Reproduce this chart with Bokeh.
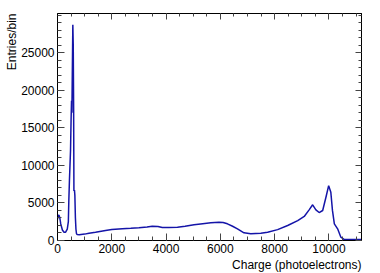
from bokeh.plotting import figure
from bokeh.models import Range1d, FixedTicker, LinearAxis, Title
from bokeh.embed import file_html
from bokeh.resources import INLINE

charge = [0, 20, 50, 80, 120, 180, 240, 300, 360, 400, 417, 440, 480, 500, 517, 530, 545, 565,
          580, 595, 605, 625, 640, 660, 680, 700, 725, 800, 1000, 1160, 1400, 1770, 2000, 2390,
          2700, 3000, 3300, 3490, 3700, 3860, 4100, 4420, 4700, 5030, 5350, 5650, 5950, 6100,
          6260, 6450, 6630, 6870, 7120, 7490, 7740, 8110, 8480, 8850, 9090, 9270, 9400, 9520,
          9640, 9770, 9890, 9990, 10070, 10130, 10200, 10320, 10440, 10570, 10800, 11200]
entries = [2800, 3200, 3400, 3100, 2200, 1400, 1100, 1100, 1500, 2500, 5300, 8000, 12000, 16000,
           18600, 17000, 22000, 28700, 26000, 17000, 6600, 6700, 6000, 3000, 1500, 900, 800, 780,
           850, 970, 1100, 1330, 1450, 1550, 1620, 1690, 1800, 1900, 1850, 1720, 1720, 1770, 1900,
           2090, 2230, 2350, 2440, 2400, 2220, 1900, 1550, 1020, 900, 970, 1100, 1450, 2000, 2650,
           3200, 4080, 4750, 4080, 3720, 3990, 5760, 7300, 6420, 4000, 2220, 1550, 440, 130, 130, 120]

x_major = [0, 2000, 4000, 6000, 8000, 10000]
x_minor = [v * 500 for v in range(0, 23)]
y_major = [0, 5000, 10000, 15000, 20000, 25000]
y_minor = [v * 1000 for v in range(0, 31)]

FONT = "Liberation Sans"

p = figure(width=380, height=273, output_backend="svg", toolbar_location=None,
           x_range=Range1d(0, 11200), y_range=Range1d(0, 30200),
           min_border_left=57, min_border_right=19, min_border_top=13, min_border_bottom=33,
           x_axis_location=None, y_axis_location=None)
p.xgrid.visible = False
p.ygrid.visible = False
p.outline_line_color = "black"
p.outline_line_width = 1
p.background_fill_color = "white"
p.border_fill_color = "white"

def style(ax, labels=True, major_len=7, minor_len=4):
    ax.axis_line_color = "black"
    ax.major_tick_in = major_len
    ax.major_tick_out = 0
    ax.minor_tick_in = minor_len
    ax.minor_tick_out = 0
    ax.major_tick_line_color = "#444444"
    ax.minor_tick_line_color = "#444444"
    ax.major_label_text_font = FONT
    ax.major_label_text_font_size = "12px"
    ax.major_label_text_color = "black"
    if not labels:
        ax.major_label_text_font_size = "0px"
        ax.major_label_text_alpha = 0

xb = LinearAxis(ticker=FixedTicker(ticks=x_major, minor_ticks=x_minor))
style(xb)
xb.major_label_standoff = 3
p.add_layout(xb, "below")

xt = LinearAxis(ticker=FixedTicker(ticks=x_major, minor_ticks=x_minor))
style(xt, labels=False, major_len=6, minor_len=3)
p.add_layout(xt, "above")

yl = LinearAxis(ticker=FixedTicker(ticks=y_major, minor_ticks=y_minor))
style(yl)
yl.major_label_standoff = 3
p.add_layout(yl, "left")

yr = LinearAxis(ticker=FixedTicker(ticks=y_major, minor_ticks=y_minor))
style(yr, labels=False, major_len=6, minor_len=3)
p.add_layout(yr, "right")

p.line(charge, entries, line_color="#1414a8", line_width=1.5)

p.add_layout(Title(text="Charge (photoelectrons)", align="right", standoff=0,
                   text_font=FONT, text_font_size="12px", text_font_style="normal",
                   text_color="black"), "below")
p.add_layout(Title(text="Entries/bin", align="right", standoff=0,
                   text_font=FONT, text_font_size="12px", text_font_style="normal",
                   text_color="black"), "left")

open("out.html", "w").write(file_html(p, INLINE))
